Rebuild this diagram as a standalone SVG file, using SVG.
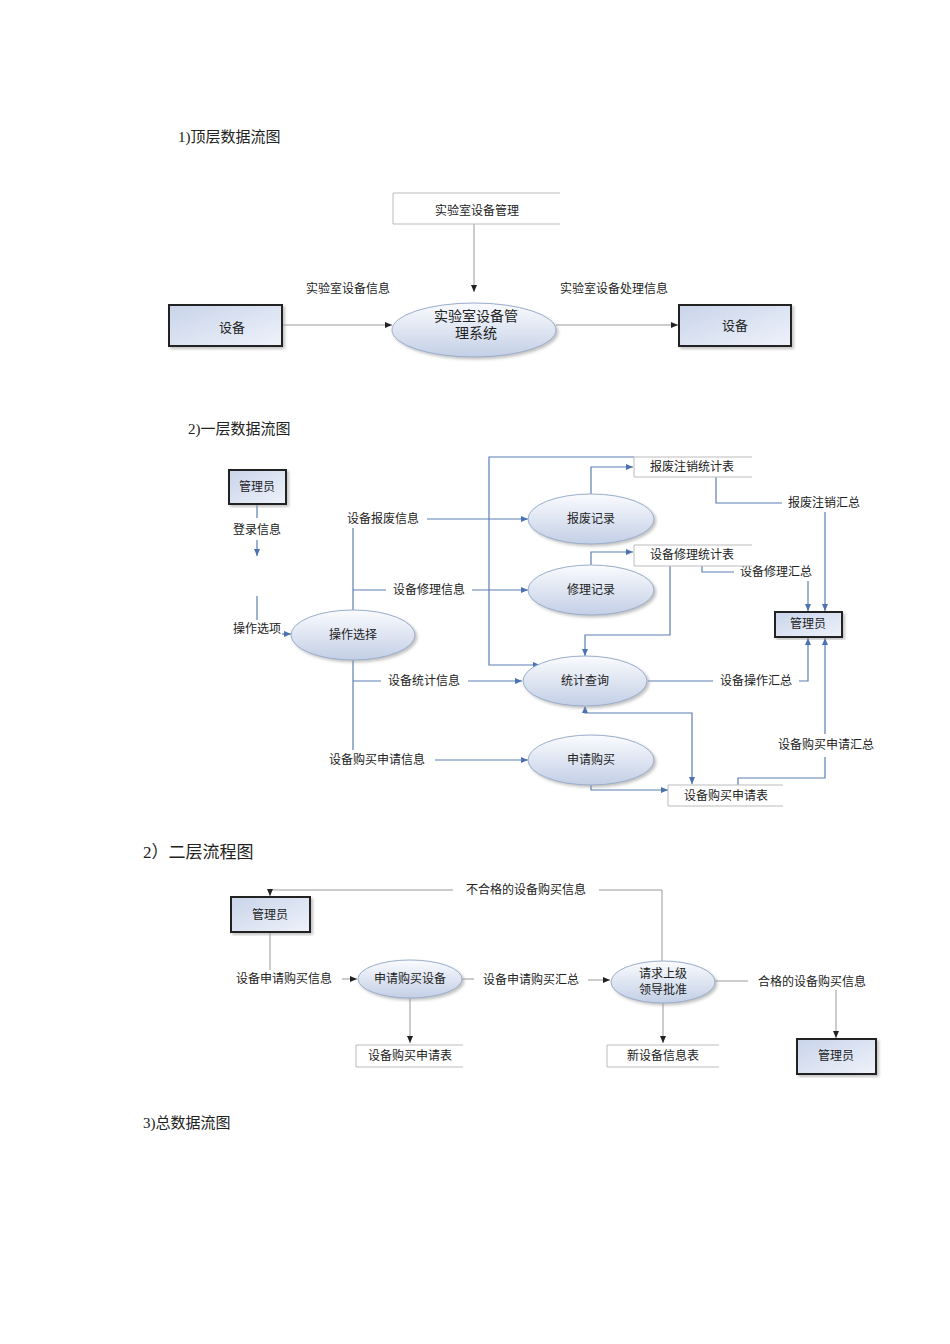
<svg xmlns="http://www.w3.org/2000/svg" width="950" height="1344" viewBox="0 0 950 1344">
<style>
text{font-family:"Liberation Serif","Noto Sans CJK SC",serif;fill:#222;}
.h{font-size:15px;}
.t{font-size:12px;text-anchor:middle;dominant-baseline:central;}
.box{fill:url(#bg);stroke:#222;stroke-width:2;}
.ell{fill:url(#eg);stroke:#9aaecb;stroke-width:1;}
.st{fill:#fff;stroke:#bbb;stroke-width:1;}
.g{fill:none;stroke:#999;stroke-width:1;}
.b{fill:none;stroke:#5b7fb5;stroke-width:1.2;}
.lb{fill:#fff;}
</style>
<defs>
<linearGradient id="bg" x1="0" y1="0" x2="1" y2="1"><stop offset="0" stop-color="#c9d4ea"/><stop offset="1" stop-color="#eef2fa"/></linearGradient>
<linearGradient id="eg" x1="0" y1="0" x2="0" y2="1"><stop offset="0" stop-color="#fafbfe"/><stop offset="1" stop-color="#c3cfe6"/></linearGradient>
<marker id="ag" markerWidth="8" markerHeight="8" refX="7" refY="4" orient="auto" markerUnits="userSpaceOnUse"><path d="M0,1 L7,4 L0,7 z" fill="#222"/></marker>
<marker id="ab" markerWidth="8" markerHeight="8" refX="7" refY="4" orient="auto" markerUnits="userSpaceOnUse"><path d="M0,1 L7,4 L0,7 z" fill="#4a72b0"/></marker>
<marker id="abs" markerWidth="8" markerHeight="8" refX="1" refY="4" orient="auto" markerUnits="userSpaceOnUse"><path d="M7,1 L0,4 L7,7 z" fill="#4a72b0"/></marker>
<filter id="sh"><feDropShadow dx="2" dy="2" stdDeviation="1.5" flood-color="#999" flood-opacity="0.6"/></filter>
</defs>

<text class="h" x="178" y="142">1)顶层数据流图</text>
<text class="h" x="188" y="434">2)一层数据流图</text>
<text x="143" y="858" style="font-size:17px">2）二层流程图</text>
<text class="h" x="143" y="1128">3)总数据流图</text>

<g id="connectors">
<!-- section 1 -->
<path class="g" d="M474,224 V292" marker-end="url(#ag)"/>
<path class="g" d="M282,325 H392" marker-end="url(#ag)"/>
<path class="g" d="M556,325 H678" marker-end="url(#ag)"/>
<!-- section 2 -->
<path class="b" d="M257,504 V518"/>
<path class="b" d="M257,540 V556" marker-end="url(#ab)"/>
<path class="b" d="M257,596 V620"/>
<path class="b" d="M282,634 H291" marker-end="url(#ab)"/>
<path class="b" d="M353,528 V610 M353,660 V750"/>
<path class="b" d="M427,519 H528" marker-end="url(#ab)"/>
<path class="b" d="M591,494 V467 H633" marker-end="url(#ab)"/>
<path class="b" d="M634,457 H489 V665 H540" marker-end="url(#ab)"/>
<path class="b" d="M353,590 H386 M472,590 H528" marker-end="url(#ab)"/>
<path class="b" d="M591,565 V552 H633" marker-end="url(#ab)"/>
<path class="b" d="M670,566 V635 H585 V656" marker-end="url(#ab)"/>
<path class="b" d="M702,566 V572 H734"/>
<path class="b" d="M808,581 V611" marker-end="url(#ab)"/>
<path class="b" d="M716,477 V503 H782"/>
<path class="b" d="M825,512 V611" marker-end="url(#ab)"/>
<path class="b" d="M353,681 H381 M468,681 H522" marker-end="url(#ab)"/>
<path class="b" d="M648,681 H713"/>
<path class="b" d="M799,681 H808 V638" marker-end="url(#ab)"/>
<path class="b" d="M585,707 V713 H692 V784" marker-start="url(#abs)" marker-end="url(#ab)"/>
<path class="b" d="M435,760 H528" marker-end="url(#ab)"/>
<path class="b" d="M591,785 V790 H668" marker-end="url(#ab)"/>
<path class="b" d="M738,785 V778 H825 V757"/>
<path class="b" d="M825,734 V638" marker-end="url(#ab)"/>
<!-- section 3 -->
<path class="g" d="M662,962 V890 H599 M453,890 H270 V896" marker-end="url(#ag)"/>
<path class="g" d="M270,932 V970"/>
<path class="g" d="M342,979 H357" marker-end="url(#ag)"/>
<path class="g" d="M462,979 H474 M588,980 H610" marker-end="url(#ag)"/>
<path class="g" d="M410,998 V1043" marker-end="url(#ag)"/>
<path class="g" d="M663,1003 V1043" marker-end="url(#ag)"/>
<path class="g" d="M715,981 H748"/>
<path class="g" d="M836,990 V1038" marker-end="url(#ag)"/>
</g>

<g id="labels">
<text class="t" x="348" y="289">实验室设备信息</text>
<text class="t" x="614" y="289">实验室设备处理信息</text>
<text class="t" x="257" y="530">登录信息</text>
<text class="t" x="257" y="629">操作选项</text>
<text class="t" x="383" y="519">设备报废信息</text>
<text class="t" x="429" y="590">设备修理信息</text>
<text class="t" x="424" y="681">设备统计信息</text>
<text class="t" x="377" y="760">设备购买申请信息</text>
<text class="t" x="824" y="503">报废注销汇总</text>
<text class="t" x="776" y="572">设备修理汇总</text>
<text class="t" x="756" y="681">设备操作汇总</text>
<text class="t" x="826" y="745">设备购买申请汇总</text>
<text class="t" x="526" y="890">不合格的设备购买信息</text>
<text class="t" x="284" y="979">设备申请购买信息</text>
<text class="t" x="531" y="980">设备申请购买汇总</text>
<text class="t" x="812" y="982">合格的设备购买信息</text>
</g>

<g id="n-store-top"><path class="st" d="M560,193 H393 V224 H560"/><text class="t" x="477" y="211">实验室设备管理</text></g>
<g id="n-system"><ellipse class="ell" filter="url(#sh)" cx="474" cy="330" rx="82" ry="27"/><text class="t" x="476" y="316" style="font-size:14px">实验室设备管</text><text class="t" x="476" y="333" style="font-size:14px">理系统</text></g>
<g id="n-dev1"><rect class="box" filter="url(#sh)" x="169" y="305" width="113" height="41"/><text class="t" x="232" y="327" style="font-size:13px">设备</text></g>
<g id="n-dev2"><rect class="box" filter="url(#sh)" x="679" y="305" width="112" height="41"/><text class="t" x="735" y="325" style="font-size:13px">设备</text></g>

<g id="n-admin1"><rect class="box" filter="url(#sh)" x="229" y="470" width="57" height="34"/><text class="t" x="257" y="487">管理员</text></g>
<g id="n-op"><ellipse class="ell" filter="url(#sh)" cx="353" cy="635" rx="62" ry="25"/><text class="t" x="353" y="635">操作选择</text></g>
<g id="n-scrap"><ellipse class="ell" filter="url(#sh)" cx="591" cy="519" rx="63" ry="25"/><text class="t" x="591" y="519">报废记录</text></g>
<g id="n-repair"><ellipse class="ell" filter="url(#sh)" cx="591" cy="590" rx="63" ry="25"/><text class="t" x="591" y="590">修理记录</text></g>
<g id="n-stat"><ellipse class="ell" filter="url(#sh)" cx="585" cy="681" rx="62" ry="25"/><text class="t" x="585" y="681">统计查询</text></g>
<g id="n-buy"><ellipse class="ell" filter="url(#sh)" cx="591" cy="760" rx="63" ry="25"/><text class="t" x="591" y="760">申请购买</text></g>
<g id="n-s1"><path class="st" d="M752,457 H634 V477 H752"/><text class="t" x="692" y="467">报废注销统计表</text></g>
<g id="n-s2"><path class="st" d="M752,545 H634 V566 H752"/><text class="t" x="692" y="555">设备修理统计表</text></g>
<g id="n-s3"><path class="st" d="M783,785 H668 V806 H783"/><text class="t" x="726" y="796">设备购买申请表</text></g>
<g id="n-admin2"><rect class="box" filter="url(#sh)" x="775" y="612" width="67" height="25"/><text class="t" x="808" y="624">管理员</text></g>

<g id="n-admin3"><rect class="box" filter="url(#sh)" x="231" y="897" width="79" height="35"/><text class="t" x="270" y="915">管理员</text></g>
<g id="n-apply"><ellipse class="ell" filter="url(#sh)" cx="410" cy="979" rx="52" ry="19"/><text class="t" x="410" y="979">申请购买设备</text></g>
<g id="n-approve"><ellipse class="ell" filter="url(#sh)" cx="663" cy="982" rx="52" ry="21"/><text class="t" x="663" y="974">请求上级</text><text class="t" x="663" y="990">领导批准</text></g>
<g id="n-s4"><path class="st" d="M463,1045 H356 V1067 H463"/><text class="t" x="410" y="1056">设备购买申请表</text></g>
<g id="n-s5"><path class="st" d="M719,1045 H607 V1067 H719"/><text class="t" x="663" y="1056">新设备信息表</text></g>
<g id="n-admin4"><rect class="box" filter="url(#sh)" x="797" y="1039" width="79" height="35"/><text class="t" x="836" y="1056">管理员</text></g>
</svg>
